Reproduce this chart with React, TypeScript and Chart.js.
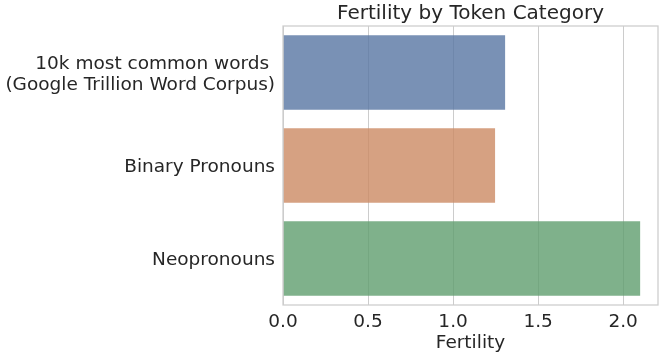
import React, { useEffect, useRef } from "react";
import { Chart, registerables } from "chart.js";

Chart.register(...registerables);

const categories: (string | string[])[] = [
  ["10k most common words ", "(Google Trillion Word Corpus)"],
  "Binary Pronouns",
  "Neopronouns",
];
const fertility: number[] = [1.306, 1.247, 2.1];
const barColors: string[] = [
  "rgba(88,117,163,0.8)",
  "rgba(204,137,99,0.8)",
  "rgba(95,158,110,0.8)",
];
const xTickValues: number[] = [0, 0.5, 1.0, 1.5, 2.0];
const xMax = 2.205;
const chartTitle = "Fertility by Token Category";
const xAxisTitle = "Fertility";

const FONT = "'DejaVu Sans', sans-serif";
const TEXT = "#262626";
const GRID = "#cccccc";

const framePlugin = {
  id: "frame",
  afterDatasetsDraw(chart: any) {
    const { ctx, chartArea } = chart;
    ctx.save();
    ctx.strokeStyle = GRID;
    ctx.lineWidth = 1.25;
    ctx.strokeRect(
      chartArea.left,
      chartArea.top,
      chartArea.right - chartArea.left,
      chartArea.bottom - chartArea.top
    );
    ctx.fillStyle = TEXT;
    ctx.font = `20px ${FONT}`;
    ctx.textAlign = "center";
    ctx.textBaseline = "middle";
    ctx.fillText(chartTitle, (chartArea.left + chartArea.right) / 2, 13.7);
    ctx.restore();
  },
};

export default function App() {
  const ref = useRef<HTMLCanvasElement | null>(null);

  useEffect(() => {
    document.body.style.margin = "0";
    if (!ref.current) return;
    const chart = new Chart(ref.current, {
      type: "bar",
      data: {
        labels: categories,
        datasets: [
          {
            data: fertility,
            backgroundColor: barColors,
            borderWidth: 0,
            barPercentage: 0.8,
            categoryPercentage: 1.0,
          },
        ],
      },
      options: {
        indexAxis: "y",
        responsive: false,
        animation: false,
        layout: { padding: { left: 0, right: 6, top: 26, bottom: 0 } },
        plugins: {
          legend: { display: false },
          tooltip: { enabled: false },
          title: { display: false },
        },
        scales: {
          x: {
            type: "linear",
            min: 0,
            max: xMax,
            afterBuildTicks(scale: any) {
              scale.ticks = xTickValues.map((v) => ({ value: v }));
            },
            afterFit(scale: any) {
              scale.height = 54;
            },
            grid: { color: GRID, lineWidth: 1, drawTicks: false },
            border: { display: false },
            ticks: {
              color: TEXT,
              font: { family: FONT, size: 18.5 },
              padding: 6,
              callback: (v: any) => Number(v).toFixed(1),
            },
            title: {
              display: true,
              text: xAxisTitle,
              color: TEXT,
              font: { family: FONT, size: 18.5, lineHeight: 1.2 },
              padding: { top: 0, bottom: 5 },
            },
          },
          y: {
            afterFit(scale: any) {
              scale.width = 283;
            },
            grid: { display: false, drawTicks: false },
            border: { display: false },
            ticks: {
              color: TEXT,
              font: { family: FONT, size: 18.5, lineHeight: 1.15 },
              padding: 8,
              labelOffset: 2,
            },
          },
        },
      },
      plugins: [framePlugin],
    });
    return () => chart.destroy();
  }, []);

  return (
    <div style={{ width: 664, height: 359 }}>
      <canvas ref={ref} width={664} height={359} />
    </div>
  );
}
